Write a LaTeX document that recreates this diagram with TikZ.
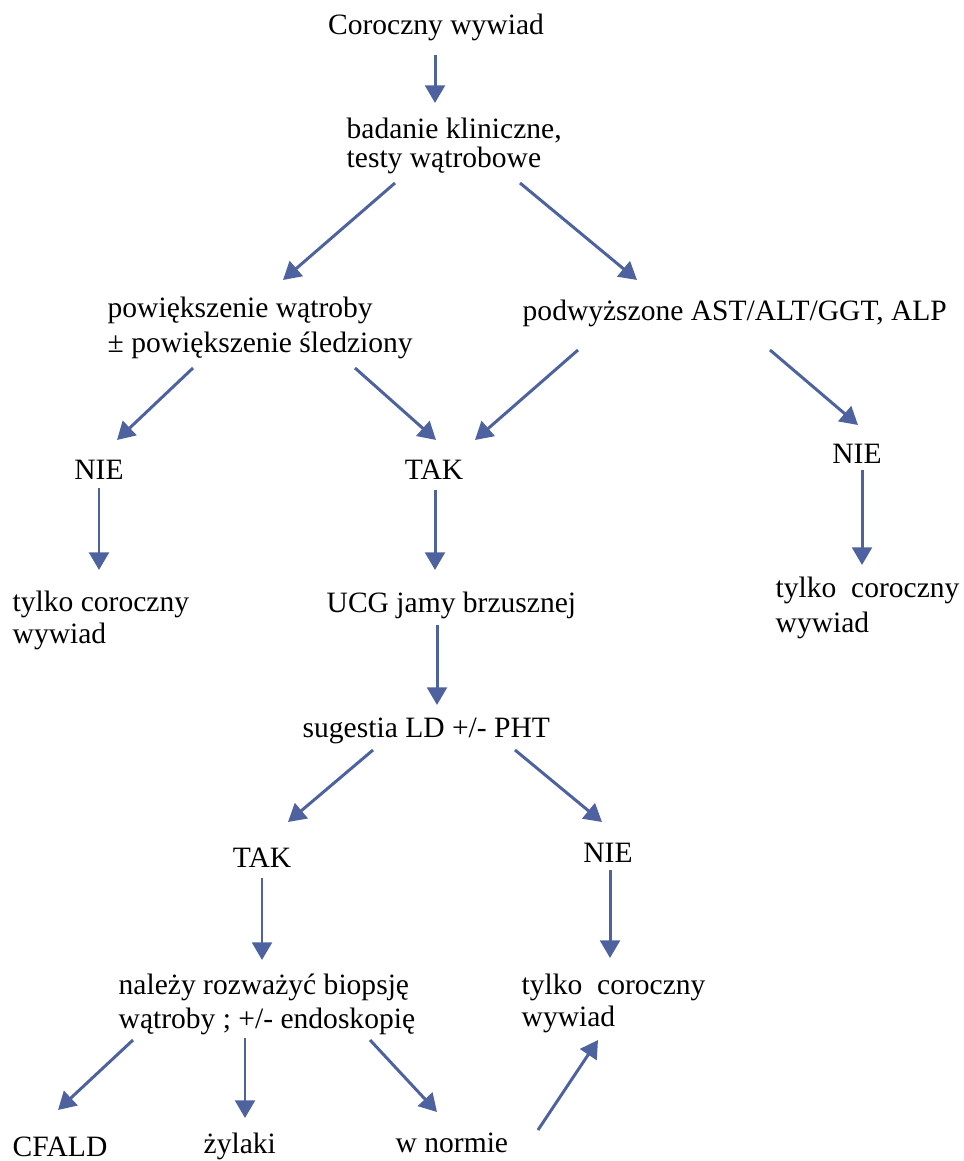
\documentclass[tikz,border=0pt]{standalone}
\usepackage{fontspec}
\setmainfont{Liberation Serif}
\usetikzlibrary{arrows.meta,positioning}
\definecolor{arrowblue}{RGB}{78,98,160}
\tikzstyle{txt} = [inner sep=0pt, anchor=west, align=left,
    font=\fontsize{8.4}{10}\selectfont]
\tikzstyle{ans} = [inner sep=0pt, font=\fontsize{8.4}{10}\selectfont]
\tikzstyle{arr} = [draw=arrowblue, line width=0.85pt,
    -{Triangle[length=5pt,width=5.6pt]}]

\begin{document}
\begin{tikzpicture}[x=0.01cm, y=-0.01cm]
  \useasboundingbox (0,0) rectangle (963,1161);
  % Place nodes
  \node [ans] (cor) at (436,27) {Coroczny wywiad};
  \node [txt, font=\fontsize{8.4}{8}\selectfont] (bad) at (346,146)
  {badanie kliniczne,\\testy wątrobowe};
  \node [txt, font=\fontsize{8.4}{10.2}\selectfont] (pow) at (107,328)
  {powiększenie wątroby\\± powiększenie śledziony};
  \node [txt] (pod) at (522,313) {podwyższone AST/ALT/GGT, ALP};
  \node [ans] (nie1) at (99,470) {NIE};
  \node [ans] (tak1) at (434,470) {TAK};
  \node [ans] (nie2) at (857,454) {NIE};
  \node [txt, font=\fontsize{8.4}{9.1}\selectfont] (tyl1) at (12,620)
  {tylko coroczny\\wywiad};
  \node [txt] (ucg) at (326,605) {UCG jamy brzusznej};
  \node [txt, font=\fontsize{8.4}{10}\selectfont] (tyl2) at (775,608)
  {tylko\ \ coroczny\\wywiad};
  \node [txt] (sug) at (302,731) {sugestia LD +/- PHT};
  \node [ans] (tak2) at (262,858) {TAK};
  \node [ans] (nie3) at (608,853) {NIE};
  \node [txt, font=\fontsize{8.4}{9.7}\selectfont] (nal) at (118,1004)
  {należy rozważyć biopsję\\wątroby ; +/- endoskopię};
  \node [txt, font=\fontsize{8.4}{9.1}\selectfont] (tyl3) at (521,1003)
  {tylko\ \ coroczny\\wywiad};
  \node [txt] (cfa) at (12,1147) {CFALD};
  \node [txt] (zyl) at (203,1146) {żylaki};
  \node [txt] (wno) at (395,1143) {w normie};
  % Arrows
  \draw[arr] ([shift={(-1,28)}]cor.center) -- ([shift={(89,-43)}]bad.west);
  \draw[arr] ([shift={(49,37)}]bad.west) -- ([shift={(176,-48)}]pow.west);
  \draw[arr] ([shift={(174,37)}]bad.west) -- ([shift={(115,-33)}]pod.west);
  \draw[arr] ([shift={(86,40)}]pow.west) -- ([shift={(18,-30)}]nie1.center);
  \draw[arr] ([shift={(248,40)}]pow.west) -- ([shift={(2,-30)}]tak1.center);
  \draw[arr] ([shift={(56,37)}]pod.west) -- ([shift={(41,-30)}]tak1.center);
  \draw[arr] ([shift={(248,37)}]pod.west) -- ([shift={(1,-29)}]nie2.center);
  \draw[arr] ([shift={(0,18)}]nie1.center) -- ([shift={(87,-50)}]tyl1.west);
  \draw[arr] ([shift={(1,20)}]tak1.center) -- ([shift={(109,-35)}]ucg.west);
  \draw[arr] ([shift={(5,16)}]nie2.center) -- ([shift={(87,-43)}]tyl2.west);
  \draw[arr] ([shift={(111,20)}]ucg.west) -- ([shift={(135,-26)}]sug.west);
  \draw[arr] ([shift={(71,19)}]sug.west) -- ([shift={(26,-36)}]tak2.center);
  \draw[arr] ([shift={(213,19)}]sug.west) -- ([shift={(-6,-31)}]nie3.center);
  \draw[arr] ([shift={(0,20)}]tak2.center) -- ([shift={(144,-44)}]nal.west);
  \draw[arr] ([shift={(2,17)}]nie3.center) -- ([shift={(89,-45)}]tyl3.west);
  \draw[arr] ([shift={(15,36)}]nal.west) -- ([shift={(46,-37)}]cfa.west);
  \draw[arr] ([shift={(127,34)}]nal.west) -- ([shift={(42,-28)}]zyl.west);
  \draw[arr] ([shift={(252,36)}]nal.west) -- ([shift={(42,-31)}]wno.west);
  \draw[arr] ([shift={(143,-13)}]wno.west) -- ([shift={(77,37)}]tyl3.west);
\end{tikzpicture}
\end{document}
